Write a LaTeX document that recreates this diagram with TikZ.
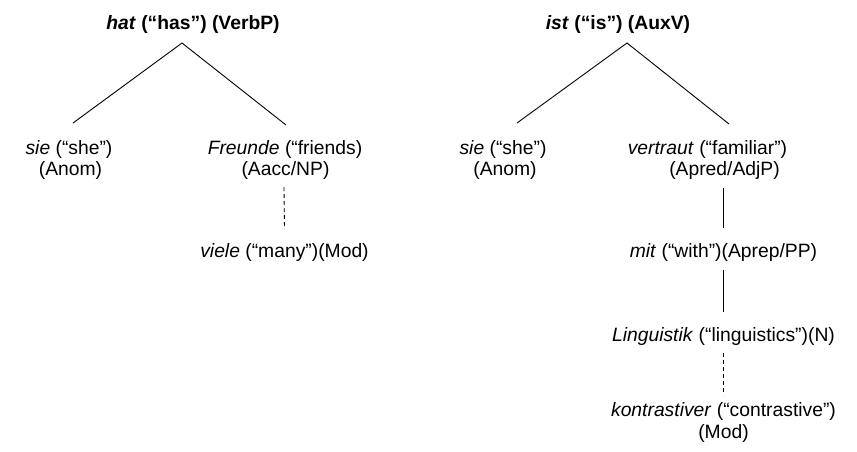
\documentclass[tikz,border=0pt]{standalone}
\usepackage{fontspec}
\setmainfont{Liberation Sans}
\begin{document}
\begin{tikzpicture}[x=1pt,y=-1pt,
  lbl/.style={anchor=base,inner sep=0pt,outer sep=0pt,text height=14pt,text depth=4pt,
    font=\fontsize{19.3}{23}\selectfont},
  edge/.style={line width=0.9pt,black},
  dashline/.style={edge,dash pattern=on 4pt off 3pt}]
\useasboundingbox (0,0) rectangle (857,451);
% left tree
\node[lbl] (r1) at (193,29) {\textbf{\textit{hat} (“has”) (VerbP)}};
\coordinate (ap1) at (182,43);
\node[lbl] (a1) at (69,154) {\textit{sie} (“she”)};
\node[lbl] (a1b) at (70.5,175) {(Anom)};
\node[lbl] (f1) at (285,154) {\textit{Freunde} (“friends)};
\node[lbl] (f1b) at (285.5,175) {(Aacc/NP)};
\node[lbl] (v1) at (284.5,257) {\textit{viele} (“many”)(Mod)};
\draw[edge] ([shift={(4pt,17pt)}]a1.north) -- (ap1) -- ([shift={(1pt,15pt)}]f1.north);
\draw[dashline] ([shift={(-1.5pt,-8pt)}]f1b.south) -- ([yshift=14pt]v1.north);
% right tree
\node[lbl] (r2) at (618,29) {\textbf{\textit{ist} (“is”) (AuxV)}};
\coordinate (ap2) at (627,43);
\node[lbl] (s2) at (503,154) {\textit{sie} (“she”)};
\node[lbl] (s2b) at (505,175) {(Anom)};
\node[lbl] (v2) at (707.5,154) {\textit{vertraut} (“familiar”)};
\node[lbl] (v2b) at (724.5,175) {(Apred/AdjP)};
\node[lbl] (m2) at (723.5,257) {\textit{mit} (“with”)(Aprep/PP)};
\node[lbl] (l2) at (723.5,341) {\textit{Linguistik} (“linguistics”)(N)};
\node[lbl] (k2) at (723.5,416) {\textit{kontrastiver} (“contrastive”)};
\node[lbl] (k2b) at (723.5,438) {(Mod)};
\draw[edge] ([shift={(14pt,17pt)}]s2.north) -- (ap2) -- ([shift={(21.5pt,16pt)}]v2.north);
\draw[edge] ([shift={(-1pt,-9pt)}]v2b.south) -- ([yshift=15pt]m2.north);
\draw[edge] ([yshift=-9pt]m2.south) -- ([yshift=15pt]l2.north);
\draw[dashline] ([yshift=-8pt]l2.south) -- ([yshift=7pt]k2.north);
\end{tikzpicture}
\end{document}
